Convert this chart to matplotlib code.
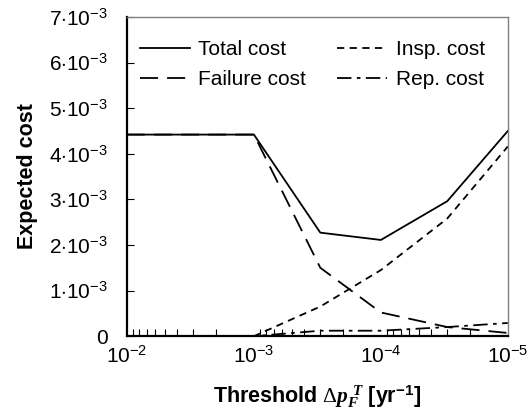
import math
import matplotlib
matplotlib.use("Agg")
import matplotlib.pyplot as plt
from matplotlib.ticker import FixedLocator, FuncFormatter, LogLocator, NullFormatter

plt.rcParams['font.family'] = ['Liberation Sans', 'DejaVu Sans']
plt.rcParams['mathtext.fontset'] = 'custom'
plt.rcParams['mathtext.rm'] = 'Liberation Sans'
plt.rcParams['mathtext.it'] = 'Liberation Serif:italic:bold'
plt.rcParams['mathtext.bf'] = 'Liberation Sans:bold'
plt.rcParams['mathtext.cal'] = 'Liberation Serif'

# threshold values (yr^-1) and expected costs
threshold = [1e-2, 1e-3, 3e-4, 1e-4, 3e-5, 1e-5]
total_cost = [4.42e-3, 4.42e-3, 2.27e-3, 2.11e-3, 2.96e-3, 4.50e-3]
insp_cost = [0.0, 0.0, 0.65e-3, 1.45e-3, 2.58e-3, 4.16e-3]
failure_cost = [4.42e-3, 4.42e-3, 1.50e-3, 0.52e-3, 0.20e-3, 0.07e-3]
rep_cost = [0.0, 0.0, 0.12e-3, 0.12e-3, 0.20e-3, 0.29e-3]

y_ticks = [0, 1e-3, 2e-3, 3e-3, 4e-3, 5e-3, 6e-3, 7e-3]


def y_fmt(v, pos):
    if v == 0:
        return '0'
    return r'$%d{\cdot}10^{-3}$' % round(v * 1e3)


def x_fmt(v, pos):
    return r'$10^{%d}$' % round(math.log10(v))


fig = plt.figure(figsize=(5.29, 4.13), dpi=100)
ax = fig.add_axes([0.240, 0.186, 0.720, 0.773])

ax.plot(threshold, total_cost, color='black', lw=1.3, ls='-', label='Total cost')
ax.plot(threshold, failure_cost, color='black', lw=1.3, ls=(0, (10, 5)), label='Failure cost')
ax.plot(threshold, insp_cost, color='black', lw=1.3, ls=(0, (4, 3)), label='Insp. cost')
ax.plot(threshold, rep_cost, color='black', lw=1.3, ls=(0, (8, 3, 2, 3)), label='Rep. cost')

ax.set_xscale('log')
ax.set_xlim(1e-2, 1e-5)
ax.set_ylim(0, 7e-3)

ax.xaxis.set_major_locator(FixedLocator([1e-2, 1e-3, 1e-4, 1e-5]))
ax.xaxis.set_minor_locator(LogLocator(base=10, subs=range(2, 10)))
ax.xaxis.set_minor_formatter(NullFormatter())
ax.xaxis.set_major_formatter(FuncFormatter(x_fmt))
ax.yaxis.set_major_locator(FixedLocator(y_ticks))
ax.yaxis.set_major_formatter(FuncFormatter(y_fmt))

ax.tick_params(axis='both', which='both', direction='in', labelsize=15, color='black')
ax.tick_params(axis='x', which='major', length=0, pad=7)
ax.tick_params(axis='x', which='minor', length=5, width=0.8)
ax.tick_params(axis='y', which='major', length=5, width=0.8, pad=14)

for side in ['left', 'bottom']:
    ax.spines[side].set_linewidth(1.6)
    ax.spines[side].set_color('black')
for side in ['top', 'right']:
    ax.spines[side].set_linewidth(1.0)
    ax.spines[side].set_color('#808080')

ax.set_ylabel('Expected cost', fontsize=15.5, fontweight='bold', labelpad=8)
ax.set_xlabel(r'Threshold $\mathcal{\Delta} p_F^{\ T}$ [yr$^{\mathbf{-1}}$]', fontsize=15.5,
              fontweight='bold', labelpad=12)

ax.legend(loc='upper left', bbox_to_anchor=(-0.015, 0.985), ncol=2, frameon=False,
          fontsize=15, handlelength=2.4, columnspacing=1.5, handletextpad=0.4,
          labelspacing=0.5, borderaxespad=0.5)

fig.savefig('out.png', dpi=100)
